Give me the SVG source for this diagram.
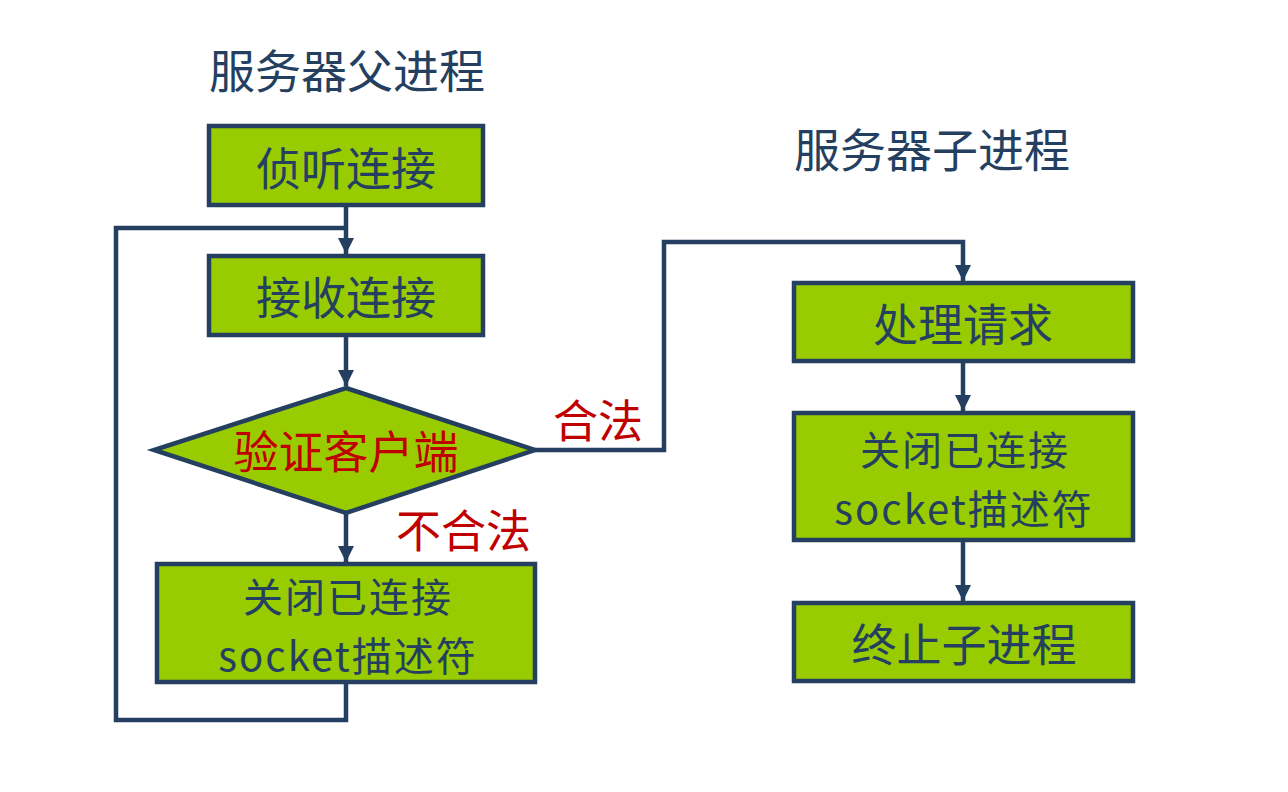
<svg xmlns="http://www.w3.org/2000/svg" width="1288" height="792" viewBox="0 0 1288 792">
<defs>
<style>
.box{fill:#99CC00;stroke:#243F60;stroke-width:4.5}
.t{font-family:"Noto Sans CJK SC","Liberation Sans",sans-serif;font-size:45px;fill:#243F60;text-anchor:middle}
.t2{font-family:"Noto Sans CJK SC","Liberation Sans",sans-serif;font-size:40px;letter-spacing:2px;fill:#243F60;text-anchor:middle}
.h{font-family:"Noto Sans CJK SC","Liberation Sans",sans-serif;font-size:46px;fill:#243F60}
.r{font-family:"Noto Sans CJK SC","Liberation Sans",sans-serif;font-size:45px;fill:#C00000}
.c{fill:none;stroke:#243F60;stroke-width:4.5}
</style>
<marker id="ah" markerUnits="userSpaceOnUse" markerWidth="16" markerHeight="16" viewBox="0 0 16 16" refX="16" refY="8" orient="auto">
<path d="M0,0 L16,8 L0,16 Z" fill="#243F60"/>
</marker>
</defs>
<rect width="1288" height="792" fill="#FFFFFF"/>
<text class="h" x="209" y="88">服务器父进程</text>
<text class="h" x="794" y="167">服务器子进程</text>
<g id="connectors">
<path class="c" d="M346,206 V254" marker-end="url(#ah)"/>
<path class="c" d="M346,336 V386" marker-end="url(#ah)"/>
<path class="c" d="M346,514 V562" marker-end="url(#ah)"/>
<path class="c" d="M346,684 V720 H116 V228 H346"/>
<path class="c" d="M535,450 H664 V242 H963 V281" marker-end="url(#ah)"/>
<path class="c" d="M963,362 V411" marker-end="url(#ah)"/>
<path class="c" d="M963,541 V601" marker-end="url(#ah)"/>
</g>
<g id="n_listen">
<rect class="box" x="209" y="126" width="274" height="79"/>
<text class="t" x="346" y="186">侦听连接</text>
</g>
<g id="n_accept">
<rect class="box" x="209" y="256" width="274" height="79"/>
<text class="t" x="346" y="315">接收连接</text>
</g>
<g id="n_verify">
<polygon class="box" points="346,388 535,450 346,513 154,450"/>
<text class="r" x="346" y="469" text-anchor="middle">验证客户端</text>
</g>
<text class="r" x="553" y="438">合法</text>
<text class="r" x="396" y="548">不合法</text>
<g id="n_close_parent">
<rect class="box" x="157" y="564" width="378" height="118"/>
<text class="t2"><tspan x="348" y="612">关闭已连接</tspan><tspan x="348" y="671">socket描述符</tspan></text>
</g>
<g id="n_handle">
<rect class="box" x="794" y="283" width="339" height="78"/>
<text class="t" x="963" y="342">处理请求</text>
</g>
<g id="n_close_child">
<rect class="box" x="794" y="413" width="339" height="127"/>
<text class="t2"><tspan x="965" y="465">关闭已连接</tspan><tspan x="964" y="524">socket描述符</tspan></text>
</g>
<g id="n_exit">
<rect class="box" x="794" y="603" width="339" height="78"/>
<text class="t" x="964" y="662">终止子进程</text>
</g>
</svg>
